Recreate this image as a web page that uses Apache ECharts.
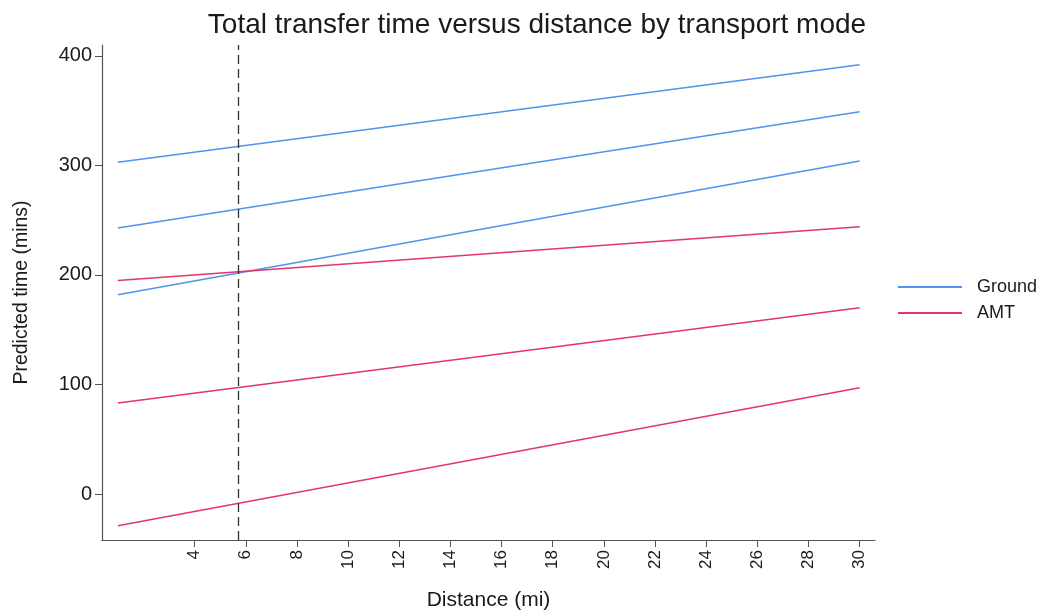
<!DOCTYPE html>
<html>
<head>
<meta charset="utf-8">
<script src="https://cdn.jsdelivr.net/npm/echarts@6/dist/echarts.min.js"></script>
<style>html,body{margin:0;padding:0;background:#fff}#c{width:1041px;height:616px}</style>
</head>
<body>
<div id="c"></div>
<script>
var distance = [1, 30];
var ground1 = [303, 392];
var ground2 = [243, 349];
var ground3 = [182, 304];
var amt1 = [195, 244];
var amt2 = [83, 170];
var amt3 = [-29, 97];
var cutoff = 5.7;
var xTicks = [4, 6, 8, 10, 12, 14, 16, 18, 20, 22, 24, 26, 28, 30];
var yTicks = [0, 100, 200, 300, 400];

var GROUND = '#4f94ee';
var AMT = '#e3356c';
var FONT = 'Liberation Sans';

function pts(ys) { return distance.map(function (x, i) { return [x, ys[i]]; }); }
function mk(name, ys, color, extra) {
  var s = {
    name: name, type: 'line', data: pts(ys), showSymbol: false, symbol: 'none',
    lineStyle: { color: color, width: 1.5 }, itemStyle: { color: color },
    silent: true, z: 3
  };
  if (extra) for (var k in extra) s[k] = extra[k];
  return s;
}

var chart = echarts.init(document.getElementById('c'), null, { renderer: 'canvas' });
chart.setOption({
  animation: false,
  backgroundColor: '#fff',
  textStyle: { fontFamily: FONT },
  title: {
    text: 'Total transfer time versus distance by transport mode',
    left: 532, top: 6, textAlign: 'center',
    textStyle: { fontFamily: FONT, fontSize: 28, fontWeight: 'normal', color: '#1a1a1a' }
  },
  legend: {
    data: ['Ground', 'AMT'], orient: 'vertical', left: 893, top: 273,
    icon: 'rect', itemWidth: 64, itemHeight: 2, itemGap: 8,
    textStyle: { fontFamily: FONT, fontSize: 18, color: '#1a1a1a', padding: [0, 0, 0, 10] }
  },
  grid: { left: 102, right: 166, top: 45, bottom: 76, containLabel: false, outerBoundsMode: 'none' },
  xAxis: {
    type: 'value', min: 0.38, max: 30.6,
    name: 'Distance (mi)', nameLocation: 'middle', nameGap: 50,
    nameTextStyle: { fontFamily: FONT, fontSize: 21, color: '#1a1a1a' },
    axisLine: { show: true, onZero: false, lineStyle: { color: '#555', width: 1.2 } },
    axisTick: { show: true, length: 7, customValues: xTicks, lineStyle: { color: '#555' } },
    axisLabel: { customValues: xTicks, rotate: 90, fontFamily: FONT, fontSize: 17, color: '#1a1a1a', margin: 10 },
    splitLine: { show: false }
  },
  yAxis: {
    type: 'value', min: -42, max: 410,
    name: 'Predicted time (mins)', nameLocation: 'middle', nameGap: 70, nameRotate: 90,
    nameTextStyle: { fontFamily: FONT, fontSize: 19.5, color: '#1a1a1a' },
    axisLine: { show: true, onZero: false, lineStyle: { color: '#555', width: 1.2 } },
    axisTick: { show: true, length: 7, customValues: yTicks, lineStyle: { color: '#555' } },
    axisLabel: { customValues: yTicks, fontFamily: FONT, fontSize: 20, color: '#1a1a1a', margin: 10 },
    splitLine: { show: false }
  },
  series: [
    mk('Ground', ground1, GROUND, {
      markLine: {
        silent: true, symbol: ['none', 'none'], label: { show: false },
        lineStyle: { color: '#333', type: [9, 5], width: 1.3 },
        data: [{ xAxis: cutoff }]
      }
    }),
    mk('Ground', ground2, GROUND),
    mk('Ground', ground3, GROUND),
    mk('AMT', amt1, AMT),
    mk('AMT', amt2, AMT),
    mk('AMT', amt3, AMT)
  ]
});
</script>
</body>
</html>
